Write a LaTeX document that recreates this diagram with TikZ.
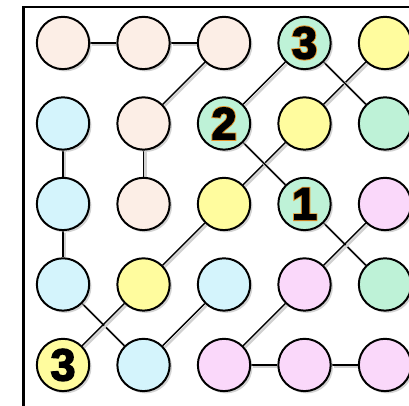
\documentclass[tikz,border=0pt]{standalone}
\usepackage{fontspec}
\newfontfamily\numfont{Liberation Sans Bold}[FakeBold=3]
\newfontfamily\glowfont{Liberation Sans Bold}[FakeBold=7]
\usetikzlibrary{shadows,backgrounds}

\definecolor{peach}{RGB}{252,238,230}
\definecolor{sky}{RGB}{212,244,252}
\definecolor{mint}{RGB}{190,242,215}
\definecolor{lemon}{RGB}{255,252,158}
\definecolor{lilac}{RGB}{250,216,250}
\definecolor{glowc}{RGB}{232,148,40}

% Ziffer mit orangem Rand
\newcommand{\glow}[1]{\rlap{\glowfont\fontsize{32}{32}\selectfont\color{glowc}#1}#1}

\begin{document}
\begin{tikzpicture}[x=2cm, y=2cm]
  \tikzstyle{dot}=[circle, draw, line width=1.4pt, minimum size=37pt, inner sep=0pt,
                   drop shadow={shadow xshift=1.6pt, shadow yshift=-1.6pt, fill=black!35, opacity=0.5},
                   font=\numfont\fontsize{32}{32}\selectfont]
  \tikzstyle{link}=[line width=1pt]
  \tikzstyle{linkshadow}=[line width=1.8pt, black!18, transform canvas={shift={(1.3pt,-1.3pt)}}]

  \useasboundingbox (0,0) rectangle (5.081,-5.043);

  % Rahmen
  \begin{scope}
    \clip (0,0) rectangle (5.081,-5.043);
    \draw[line width=1.7pt] (0.29,-6) |- (6,-0.089);
  \end{scope}

  % Kreise: Zeile/Spalte/Farbe/Zahl
  \foreach \r/\c/\col/\num in {1/1/peach/{}, 1/2/peach/{}, 1/3/peach/{}, 1/4/mint/\glow{3}, 1/5/lemon/{},
                              2/1/sky/{}, 2/2/peach/{}, 2/3/mint/\glow{2}, 2/4/lemon/{}, 2/5/mint/{},
                              3/1/sky/{}, 3/2/peach/{}, 3/3/lemon/{}, 3/4/mint/\glow{1}, 3/5/lilac/{},
                              4/1/sky/{}, 4/2/lemon/{}, 4/3/sky/{}, 4/4/lilac/{}, 4/5/mint/{},
                              5/1/lemon/3, 5/2/sky/{}, 5/3/lilac/{}, 5/4/lilac/{}, 5/5/lilac/{}}
    \node[dot, fill=\col] (n\r\c) at ({\c-0.217},{0.466-\r}) {\num};

  % Verbindungen
  \begin{scope}[on background layer]
    \foreach \a/\b in {n11/n12, n12/n13, n13/n22, n22/n32,
                       n21/n31, n31/n41, n41/n52, n52/n43,
                       n51/n42, n42/n33, n33/n24, n24/n15,
                       n14/n23, n23/n34, n14/n25, n34/n45,
                       n35/n44, n44/n53, n53/n54, n54/n55}
    {
      \draw[linkshadow] (\a) -- (\b);
      \draw[link] (\a) -- (\b);
    }
  \end{scope}
\end{tikzpicture}
\end{document}
